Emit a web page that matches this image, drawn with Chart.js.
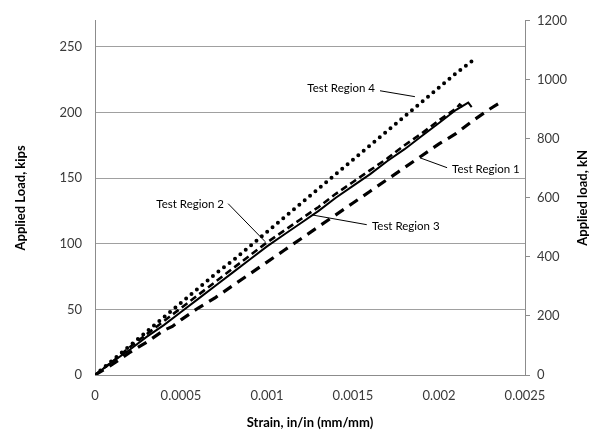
<!DOCTYPE html>
<html>
<head>
<meta charset="utf-8">
<script src="https://cdn.jsdelivr.net/npm/chart.js@4/dist/chart.umd.min.js"></script>
<style>
  html, body { margin: 0; padding: 0; background: #fff; }
  #chart { display: block; }
</style>
</head>
<body>
<canvas id="chart" width="595" height="430"></canvas>
<script>
// strain in in/in, load in kips
const region1Strain = [0, 0.0001, 0.0002, 0.0003, 0.0004, 0.00045, 0.0005, 0.0006, 0.0007, 0.0008, 0.0009, 0.0010, 0.0011, 0.0012, 0.0013, 0.0014, 0.0015, 0.0016, 0.0017, 0.0018, 0.0019, 0.0020, 0.0021, 0.0022, 0.0023, 0.00235];
const region1Load   = [0, 8, 17, 25, 34, 37, 42, 51, 59, 68, 77, 86, 95, 104, 113, 122, 131, 140, 149, 158, 167, 176, 184, 194, 203, 207];

const region2Strain = [0, 0.0001, 0.0002, 0.0003, 0.0004, 0.0005, 0.0006, 0.0007, 0.0008, 0.0009, 0.0010, 0.0011, 0.0012, 0.0013, 0.0014, 0.0015, 0.0016, 0.0017, 0.0018, 0.0019, 0.0020, 0.0021, 0.00212, 0.00214];
const region2Load   = [0, 10, 21, 31, 41, 51, 61, 71, 81, 91, 101, 110, 119, 128, 138, 147, 156, 165, 175, 184, 194, 203, 206, 204];

const region3Strain = [0, 0.0001, 0.0002, 0.0003, 0.0004, 0.0005, 0.0006, 0.0007, 0.0008, 0.0009, 0.0010, 0.0011, 0.0012, 0.0013, 0.0014, 0.0015, 0.0016, 0.0017, 0.0018, 0.0019, 0.0020, 0.0021, 0.00217, 0.00219];
const region3Load   = [0, 10, 19, 29, 38, 48, 58, 68, 78, 88, 98, 107, 116, 125, 135, 144, 153, 163, 172, 182, 192, 202, 207.5, 204];

const region4Strain = [0, 0.0001, 0.0002, 0.0003, 0.0004, 0.0005, 0.0006, 0.0007, 0.0008, 0.0009, 0.0010, 0.0011, 0.0012, 0.0013, 0.0014, 0.0015, 0.0016, 0.0017, 0.0018, 0.0019, 0.0020, 0.0021, 0.0022, 0.00222];
const region4Load   = [0, 11, 22, 33, 44, 55, 66, 77, 87, 98, 109, 120, 131, 142, 153, 164, 175, 186, 197, 208, 219, 230, 240, 241];

const xTicks = [0, 0.0005, 0.001, 0.0015, 0.002, 0.0025];
const kipTicks = [0, 50, 100, 150, 200, 250];
const knTicks = [0, 200, 400, 600, 800, 1000, 1200];

const KN_PER_KIP = 4.448;
const KN_MAX = 1200;

const FONT = 'Lato, "Open Sans", sans-serif';
const AXIS_GREY = '#8c8c8c';
const TEXT_COLOR = '#3a3a3a';

// callouts: text anchor and leader line, in data units (strain, kips)
const callouts = [
  { text: 'Test Region 4', tx: 0.001628, ty: 218, align: 'right', from: [0.001657, 216.5], to: [0.00186, 212] },
  { text: 'Test Region 1', tx: 0.002076, ty: 157, align: 'left', from: [0.00189, 165.4], to: [0.002047, 157.9] },
  { text: 'Test Region 2', tx: 0.00075, ty: 130, align: 'right', from: [0.000774, 130.5], to: [0.00099, 101.5] },
  { text: 'Test Region 3', tx: 0.00161, ty: 113, align: 'left', from: [0.00158, 114.5], to: [0.001267, 121.8] }
];

function pts(xs, ys) {
  return xs.map((x, i) => ({ x: x, y: ys[i] }));
}

const calloutPlugin = {
  id: 'callouts',
  afterDraw(chart) {
    const { ctx, chartArea } = chart;
    const x = chart.scales.x;
    const y = chart.scales.y;
    ctx.save();
    ctx.strokeStyle = '#000';
    ctx.lineWidth = 1;
    ctx.fillStyle = '#000';
    ctx.font = '11.5px ' + FONT;
    ctx.textBaseline = 'middle';
    callouts.forEach(c => {
      ctx.beginPath();
      ctx.moveTo(x.getPixelForValue(c.from[0]), y.getPixelForValue(c.from[1]));
      ctx.lineTo(x.getPixelForValue(c.to[0]), y.getPixelForValue(c.to[1]));
      ctx.stroke();
      ctx.textAlign = c.align;
      ctx.fillText(c.text, x.getPixelForValue(c.tx), y.getPixelForValue(c.ty));
    });

    // axis titles
    const midY = (chartArea.top + chartArea.bottom) / 2;
    ctx.font = 'bold 13px ' + FONT;
    ctx.textAlign = 'center';
    ctx.fillText('Strain, in/in (mm/mm)', (chartArea.left + chartArea.right) / 2, 423);

    ctx.save();
    ctx.translate(21, midY);
    ctx.rotate(-Math.PI / 2);
    ctx.fillText('Applied Load, kips', 0, 0);
    ctx.restore();

    ctx.save();
    ctx.translate(583, midY);
    ctx.rotate(-Math.PI / 2);
    ctx.fillText('Applied load, kN', 0, 0);
    ctx.restore();
    ctx.restore();
  }
};

const tickFont = { family: FONT, size: 13 };

new Chart(document.getElementById('chart'), {
  type: 'line',
  data: {
    datasets: [
      { label: 'Test Region 4', data: pts(region4Strain, region4Load), borderColor: '#000', borderWidth: 4, borderDash: [0, 7], borderCapStyle: 'round' },
      { label: 'Test Region 3', data: pts(region3Strain, region3Load), borderColor: '#000', borderWidth: 2 },
      { label: 'Test Region 2', data: pts(region2Strain, region2Load), borderColor: '#000', borderWidth: 2.6, borderDash: [7, 4] },
      { label: 'Test Region 1', data: pts(region1Strain, region1Load), borderColor: '#000', borderWidth: 3.2, borderDash: [10, 7] }
    ]
  },
  options: {
    responsive: false,
    animation: false,
    devicePixelRatio: 1,
    layout: { padding: { top: 16, left: 0, right: 0, bottom: 0 } },
    elements: { point: { radius: 0 }, line: { tension: 0, fill: false } },
    plugins: { legend: { display: false }, tooltip: { enabled: false } },
    scales: {
      x: {
        type: 'linear',
        min: 0,
        max: 0.0025,
        afterBuildTicks: s => { s.ticks = xTicks.map(v => ({ value: v })); },
        afterFit: s => { s.height = 55; },
        grid: { display: false },
        border: { display: true, color: AXIS_GREY, width: 1 },
        ticks: { color: TEXT_COLOR, font: tickFont, padding: 5, maxRotation: 0, autoSkip: false,
                 callback: v => String(Number(v.toFixed(4))) }
      },
      y: {
        position: 'left',
        min: 0,
        max: KN_MAX / KN_PER_KIP,
        afterBuildTicks: s => { s.ticks = kipTicks.map(v => ({ value: v })); },
        afterFit: s => { s.width = 95; },
        grid: { color: '#a0a0a0', lineWidth: 1, drawTicks: false },
        border: { display: true, color: AXIS_GREY, width: 1 },
        ticks: { color: TEXT_COLOR, font: tickFont, padding: 13, autoSkip: false,
                 callback: v => String(v) }
      },
      y2: {
        position: 'right',
        min: 0,
        max: KN_MAX,
        afterBuildTicks: s => { s.ticks = knTicks.map(v => ({ value: v })); },
        afterFit: s => { s.width = 70; },
        grid: { drawOnChartArea: false, drawTicks: true, tickLength: 5, color: AXIS_GREY },
        border: { display: true, color: AXIS_GREY, width: 1 },
        ticks: { color: TEXT_COLOR, font: tickFont, padding: 7, autoSkip: false,
                 callback: v => String(v) }
      }
    }
  },
  plugins: [calloutPlugin]
});
</script>
</body>
</html>
